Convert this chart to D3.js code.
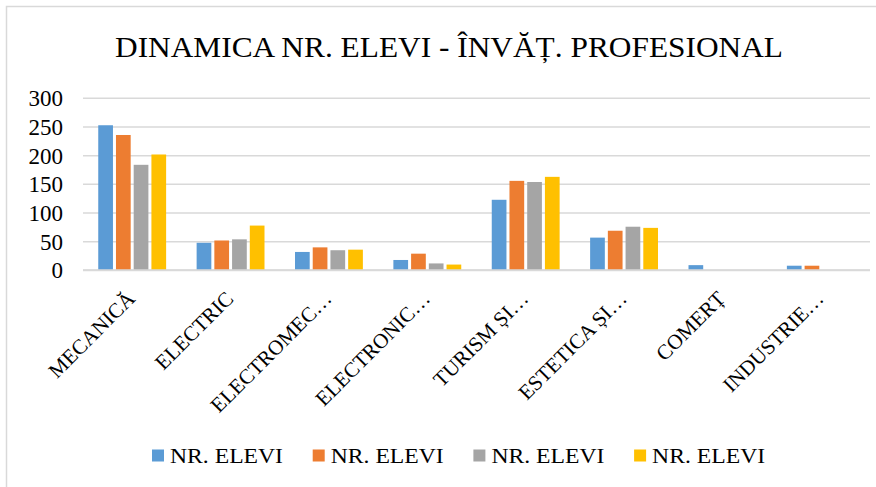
<!DOCTYPE html>
<html>
<head>
<meta charset="utf-8">
<script src="https://cdn.jsdelivr.net/npm/d3@7"></script>
<style>
  body { margin: 0; background: #fff; }
</style>
</head>
<body>
<script>
// date din grafic
const categorii = ["MECANICĂ", "ELECTRIC", "ELECTROMEC…", "ELECTRONIC…", "TURISM ȘI…", "ESTETICA ȘI…", "COMERȚ", "INDUSTRIE…"];
const serie1 = [253, 48, 32, 18, 123, 57, 9, 8];
const serie2 = [236, 52, 40, 29, 156, 69, 0, 8];
const serie3 = [184, 54, 35, 12, 154, 76, 0, 0];
const serie4 = [202, 78, 36, 10, 163, 74, 0, 0];
const numeSerii = ["NR. ELEVI", "NR. ELEVI", "NR. ELEVI", "NR. ELEVI"];
const culori = ["#5B9BD5", "#ED7D31", "#A5A5A5", "#FFC000"];
const valoriAxaY = [0, 50, 100, 150, 200, 250, 300];

const serii = [serie1, serie2, serie3, serie4];
const font = "'Liberation Serif', 'Times New Roman', serif";

const svg = d3
  .select("body")
  .append("svg")
  .attr("width", 876)
  .attr("height", 487)
  .style("font-family", font);

// chenarul graficului
svg
  .append("rect")
  .attr("x", 6.5)
  .attr("y", 6.5)
  .attr("width", 900)
  .attr("height", 500)
  .attr("fill", "#fff")
  .attr("stroke", "#d9d9d9")
  .attr("stroke-width", 1.5);

// titlul
svg
  .append("text")
  .attr("x", 449)
  .attr("y", 57)
  .attr("text-anchor", "middle")
  .attr("font-size", 29)
  .attr("textLength", 668)
  .attr("lengthAdjust", "spacingAndGlyphs")
  .text("DINAMICA NR. ELEVI - ÎNVĂȚ. PROFESIONAL");

const x0 = d3.scaleBand().domain(categorii).range([83, 870]).paddingInner(0.31).paddingOuter(0.155);
const x1 = d3.scaleBand().domain(d3.range(serii.length)).range([0, x0.bandwidth()]).paddingInner(0.17);
const y = d3.scaleLinear().domain([0, 300]).range([270.3, 98.3]);

// liniile de grilă
svg
  .append("g")
  .selectAll("line")
  .data(valoriAxaY)
  .join("line")
  .attr("x1", 83)
  .attr("x2", 870)
  .attr("y1", (d) => y(d))
  .attr("y2", (d) => y(d))
  .attr("stroke", "#d9d9d9")
  .attr("stroke-width", 1.5);

// etichetele axei Y
const axaY = svg
  .append("g")
  .attr("transform", "translate(63,0)")
  .call(d3.axisLeft(y).tickValues(valoriAxaY).tickSize(0).tickPadding(0));
axaY.select(".domain").remove();
axaY.attr("font-family", null).attr("font-size", null);
axaY.selectAll("text").attr("font-size", 23).attr("fill", "#000");

// barele
svg
  .append("g")
  .selectAll("g")
  .data(categorii)
  .join("g")
  .attr("transform", (d) => `translate(${x0(d)},0)`)
  .selectAll("rect")
  .data((d, i) => serii.map((s, j) => ({ serie: j, valoare: s[i] })))
  .join("rect")
  .attr("x", (d) => x1(d.serie))
  .attr("width", x1.bandwidth())
  .attr("y", (d) => y(d.valoare))
  .attr("height", (d) => y(0) - y(d.valoare))
  .attr("fill", (d) => culori[d.serie]);

// axa X
svg
  .append("line")
  .attr("x1", 83)
  .attr("x2", 870)
  .attr("y1", y(0))
  .attr("y2", y(0))
  .attr("stroke", "#d9d9d9")
  .attr("stroke-width", 2);

// etichetele categoriilor, rotite
svg
  .append("g")
  .selectAll("text")
  .data(categorii)
  .join("text")
  .attr("transform", (d) => `translate(${x0(d) + x0.bandwidth() / 2 + 4},300) rotate(-45)`)
  .attr("text-anchor", "end")
  .attr("font-size", 21)
  .text((d) => d);

// legenda
const legenda = svg
  .append("g")
  .selectAll("g")
  .data(numeSerii)
  .join("g")
  .attr("transform", (d, i) => `translate(${152 + i * 160.7},0)`);

legenda
  .append("rect")
  .attr("x", 0)
  .attr("y", 449.5)
  .attr("width", 12)
  .attr("height", 12)
  .attr("fill", (d, i) => culori[i]);

legenda
  .append("text")
  .attr("x", 18)
  .attr("y", 463)
  .attr("font-size", 22)
  .attr("textLength", 113)
  .attr("lengthAdjust", "spacingAndGlyphs")
  .text((d) => d);
</script>
</body>
</html>
